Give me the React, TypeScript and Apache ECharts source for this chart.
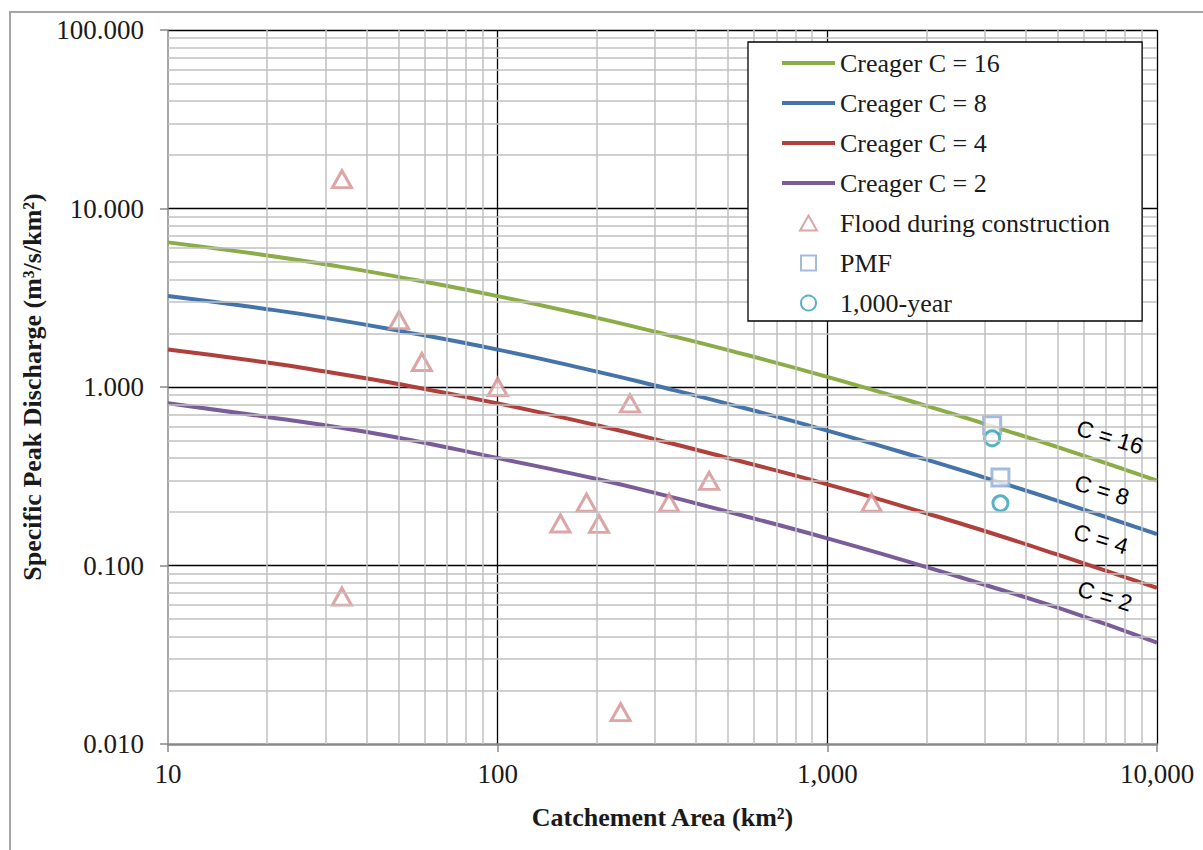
import React, { useEffect, useRef } from "react";
import * as echarts from "echarts";

// Catchment areas (km²) at which the Creager curves were read
const areaPts = [10, 20, 30, 50, 100, 200, 300, 500, 1000, 2000, 3000, 5000, 10000];
// Specific peak discharge (m³/s/km²)
const creager16 = [6.46, 5.46, 4.87, 4.14, 3.23, 2.44, 2.04, 1.61, 1.14, 0.784, 0.622, 0.46, 0.299];
const creager8 = [3.23, 2.73, 2.44, 2.07, 1.62, 1.22, 1.02, 0.805, 0.57, 0.392, 0.311, 0.23, 0.15];
const creager4 = [1.62, 1.37, 1.22, 1.04, 0.81, 0.61, 0.51, 0.4, 0.285, 0.196, 0.156, 0.115, 0.075];
const creager2 = [0.81, 0.68, 0.61, 0.52, 0.4, 0.305, 0.255, 0.2, 0.142, 0.098, 0.078, 0.058, 0.037];

// Flood during construction
const floodArea = [33.7, 33.7, 50.2, 58.9, 100, 252, 438, 331, 186, 155, 203, 236, 1362];
const floodQ = [14.6, 0.067, 2.37, 1.38, 1.0, 0.81, 0.298, 0.225, 0.225, 0.172, 0.171, 0.0151, 0.225];

// PMF
const pmfArea = [3162, 3350];
const pmfQ = [0.61, 0.311];

// 1,000-year
const yr1000Area = [3162, 3350];
const yr1000Q = [0.516, 0.223];

// Minor gridline positions
const xMinor = [20, 30, 40, 50, 60, 70, 80, 90, 200, 300, 400, 500, 600, 700, 800, 900, 2000, 3000, 4000, 5000, 6000, 7000, 8000, 9000];
const yMinor = [0.02, 0.03, 0.04, 0.05, 0.06, 0.07, 0.08, 0.09, 0.2, 0.3, 0.4, 0.5, 0.6, 0.7, 0.8, 0.9, 2, 3, 4, 5, 6, 7, 8, 9, 20, 30, 40, 50, 60, 70, 80, 90];

const curveLabels = ["C = 16", "C = 8", "C = 4", "C = 2"];

const SERIF = "'Liberation Serif', 'Times New Roman', serif";
const LINE_ICON = "path://M0,0 L53,0 L53,4 L0,4 Z";
const TRI_ICON = "path://M9,0 L18,16 L0,16 Z";
const SQ_ICON = "path://M0,0 L16,0 L16,16 L0,16 Z";

export default function App() {
  const ref = useRef<HTMLDivElement>(null);
  useEffect(() => {
    if (!ref.current) return;
    const chart = echarts.init(ref.current, undefined, { renderer: "svg" });
    const pair = (xs: number[], ys: number[]) => xs.map((x, i) => [x, ys[i]]);
    const lineSeries = (name: string, vals: number[], color: string) => ({
      name,
      type: "line",
      data: pair(areaPts, vals),
      smooth: true,
      symbol: "none",
      showSymbol: false,
      z: 2,
      lineStyle: { color, width: 4 },
      itemStyle: { color },
    });
    const minorStyle = { color: "#c0c0c0", width: 1.5, type: "solid" };
    const markData = [
      ...xMinor.map((v) => ({ xAxis: v, lineStyle: minorStyle })),
      ...yMinor.map((v) => ({ yAxis: v, lineStyle: minorStyle })),
    ];
    const option: any = {
      animation: false,
      backgroundColor: "#ffffff",
      grid: { left: 168, top: 30, right: 46, bottom: 106, containLabel: false },
      xAxis: {
        type: "log",
        logBase: 10,
        min: 10,
        max: 10000,
        z: 1,
        name: "Catchement Area (km²)",
        nameLocation: "middle",
        nameGap: 60,
        nameTextStyle: { fontFamily: SERIF, fontWeight: "bold", fontSize: 26, color: "#1a1a1a" },
        axisLine: { show: true, lineStyle: { color: "#888888", width: 2.5 } },
        axisTick: { show: true, inside: false, length: 8, lineStyle: { color: "#888888", width: 1.5 } },
        axisLabel: {
          margin: 16,
          fontFamily: SERIF,
          fontSize: 27,
          color: "#1a1a1a",
          formatter: (v: number) => Math.round(v).toLocaleString("en-US"),
        },
        splitLine: { show: true, showMinLine: false, lineStyle: { color: "#000000", width: 1.3 } },
        minorTick: { show: false },
      },
      yAxis: {
        type: "log",
        logBase: 10,
        min: 0.01,
        max: 100,
        z: 1,
        name: "Specific Peak Discharge (m³/s/km²)",
        nameLocation: "middle",
        nameGap: 120,
        nameTextStyle: { fontFamily: SERIF, fontWeight: "bold", fontSize: 26, color: "#1a1a1a" },
        axisLine: { show: true, lineStyle: { color: "#888888", width: 1.5 } },
        axisTick: { show: true, inside: false, length: 8, lineStyle: { color: "#888888", width: 1.5 } },
        axisLabel: {
          margin: 24,
          fontFamily: SERIF,
          fontSize: 27,
          color: "#1a1a1a",
          formatter: (v: number) => v.toFixed(3),
        },
        splitLine: { show: true, showMinLine: false, lineStyle: { color: "#000000", width: 1.3 } },
      },
      legend: {
        orient: "vertical",
        left: 748,
        top: 42,
        padding: [8, 32, 5, 34],
        backgroundColor: "#ffffff",
        borderColor: "#000000",
        borderWidth: 1.3,
        borderRadius: 0,
        itemWidth: 53,
        itemHeight: 15,
        itemGap: 14,
        symbolKeepAspect: true,
        textStyle: { fontFamily: SERIF, fontSize: 26, lineHeight: 26, color: "#1a1a1a" },
        data: [
          { name: "Creager C = 16", icon: LINE_ICON },
          { name: "Creager C = 8", icon: LINE_ICON },
          { name: "Creager C = 4", icon: LINE_ICON },
          { name: "Creager C = 2", icon: LINE_ICON },
          {
            name: "Flood during construction",
            icon: TRI_ICON,
            itemStyle: { color: "#ffffff", borderColor: "#d48e8e", borderWidth: 2 },
          },
          {
            name: "PMF",
            icon: SQ_ICON,
            itemStyle: { color: "#ffffff", borderColor: "#8faad6", borderWidth: 2 },
          },
          {
            name: "1,000-year",
            icon: "circle",
            itemStyle: { color: "#ffffff", borderColor: "#2f9fb4", borderWidth: 2 },
          },
        ],
        z: 10,
      },
      graphic: [
        {
          type: "rect",
          shape: { x: 10, y: 12, width: 1300, height: 900 },
          style: { fill: "none", stroke: "#a6a6a6", lineWidth: 2 },
          silent: true,
          z: -1,
        },
        ...[
          [1110, 437],
          [1102, 490],
          [1101, 539],
          [1105, 596],
        ].map((p, i) => ({
          type: "text",
          x: p[0],
          y: p[1],
          rotation: (-17 * Math.PI) / 180,
          style: {
            text: curveLabels[i],
            font: "23px 'Liberation Sans', Arial, sans-serif",
            fill: "#000000",
            textAlign: "center",
            textVerticalAlign: "middle",
          },
          z: 20,
        })),
      ],
      series: [
        {
          name: "grid-minor",
          type: "line",
          data: [],
          z: 0.5,
          silent: true,
          markLine: {
            silent: true,
            symbol: ["none", "none"],
            label: { show: false },
            animation: false,
            data: markData,
          },
        },
        lineSeries("Creager C = 16", creager16, "#8bac46"),
        lineSeries("Creager C = 8", creager8, "#4474a9"),
        lineSeries("Creager C = 4", creager4, "#b0403c"),
        lineSeries("Creager C = 2", creager2, "#7a5d98"),
        {
          name: "Flood during construction",
          type: "scatter",
          data: pair(floodArea, floodQ),
          symbol: "triangle",
          symbolSize: [19, 17],
          z: 3,
          itemStyle: { color: "#ffffff", borderColor: "#d48e8e", borderWidth: 3 },
        },
        {
          name: "PMF",
          type: "scatter",
          data: pair(pmfArea, pmfQ),
          symbol: "rect",
          symbolSize: 17,
          z: 3,
          itemStyle: { color: "#ffffff", borderColor: "#8faad6", borderWidth: 3 },
        },
        {
          name: "1,000-year",
          type: "scatter",
          data: pair(yr1000Area, yr1000Q),
          symbol: "circle",
          symbolSize: 15,
          z: 4,
          itemStyle: { color: "#ffffff", borderColor: "#2f9fb4", borderWidth: 3 },
        },
      ],
    };
    chart.setOption(option);
    return () => chart.dispose();
  }, []);
  return (
    <div
      ref={ref}
      style={{ position: "absolute", left: 0, top: 0, width: 1203, height: 850, background: "#fff" }}
    />
  );
}
